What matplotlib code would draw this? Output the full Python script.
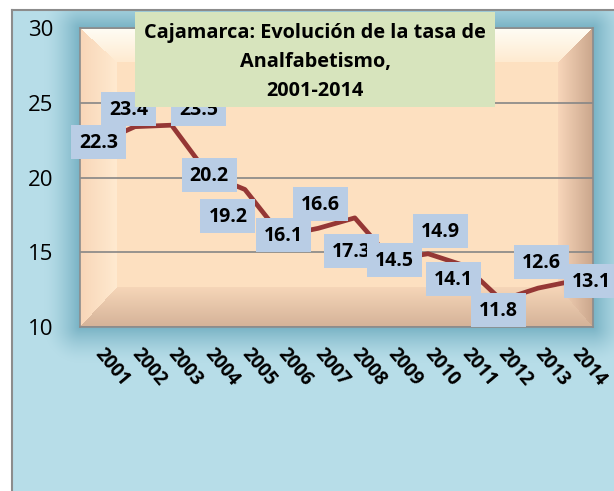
import numpy as np
import matplotlib
matplotlib.use('Agg')
import matplotlib.pyplot as plt
from matplotlib.patches import Rectangle
from matplotlib.lines import Line2D
from matplotlib.path import Path

# ---------------- data ----------------
years = ['2001', '2002', '2003', '2004', '2005', '2006', '2007',
         '2008', '2009', '2010', '2011', '2012', '2013', '2014']
rates = [22.3, 23.4, 23.5, 20.2, 19.2, 16.1, 16.6,
         17.3, 14.5, 14.9, 14.1, 11.8, 12.6, 13.1]
yticks = [10, 15, 20, 25, 30]
title_lines = ['Cajamarca: Evolución de la tasa de', 'Analfabetismo,', '2001-2014']

# label offsets (pixels) relative to each point
label_offsets = [(0, 0), (-6, 17), (27, 15), (1, -1), (-17, -28), (2, 0), (2, 23),
                 (-3, -34), (3, -1), (12, 22), (-11, -14), (-3, -11), (3, 25), (17, -1)]

plt.rcParams['font.family'] = ['Open Sans', 'DejaVu Sans']

W, H = 614, 491
L, T, R, B = 80, 28, 593, 327

# ---------------- background image ----------------
yy, xx = np.mgrid[0:H, 0:W] + 0.5
img = np.ones((H, W, 3))
base = np.array([183, 221, 232]) / 255
dark = np.array([120, 178, 196]) / 255
dxo = np.maximum(np.maximum(L - xx, xx - R), 0)
dyo = np.maximum(np.maximum(T - yy, yy - B), 0)
d = np.hypot(dxo, dyo)
I = np.clip(1 - d / 36, 0, 1) ** 1.5
chart = base * (1 - I[..., None]) + dark * I[..., None]
inside_chart = (xx >= 12) & (yy >= 10)
img[inside_chart] = chart[inside_chart]

u = xx - L
v = yy - T
Wp, Hp = R - L, B - T
stack = np.stack([v / 34, (Hp - v) / 40, u / 37, (Wp - u) / 35])
idx = np.argmin(stack, axis=0)
m = np.min(stack, axis=0)
t = np.clip(m, 0, 1)[..., None]
peach = np.array([253, 224, 192]) / 255
facets = [
    (np.array([255, 253, 245]), np.array([254, 234, 208])),  # top
    (np.array([212, 178, 152]), np.array([246, 214, 184])),  # bottom
    (np.array([248, 214, 184]), np.array([255, 234, 208])),  # left
    (np.array([202, 166, 140]), np.array([248, 214, 186])),  # right
]
plot_img = np.broadcast_to(peach, (H, W, 3)).copy()
for k, (c0, c1) in enumerate(facets):
    col = (c0 / 255) + (c1 / 255 - c0 / 255) * t
    sel = (idx == k) & (m < 1)
    plot_img[sel] = col[sel]
inside_plot = (u >= 0) & (u <= Wp) & (v >= 0) & (v <= Hp)
img[inside_plot] = plot_img[inside_plot]

fig = plt.figure(figsize=(W / 100, H / 100), dpi=100)
fig.patch.set_facecolor('white')
ax0 = fig.add_axes([0, 0, 1, 1])
ax0.imshow(img, extent=(0, W, H, 0), interpolation='nearest', aspect='auto')
ax0.set_xlim(0, W)
ax0.set_ylim(H, 0)
ax0.axis('off')
ax0.add_line(Line2D([12, 12], [10, H], color='#8c8c8c', lw=1.5))
ax0.add_line(Line2D([12, W], [10, 10], color='#8c8c8c', lw=1.5))


def fixed_box(x0, y0, width, height, mutation_size, bw=55, bh=34):
    cx = x0 + width / 2
    cy = y0 + height / 2 + 1
    verts = [(cx - bw / 2, cy - bh / 2), (cx + bw / 2, cy - bh / 2),
             (cx + bw / 2, cy + bh / 2), (cx - bw / 2, cy + bh / 2),
             (cx - bw / 2, cy - bh / 2)]
    return Path(verts, closed=True)


# ---------------- plot ----------------
ax = fig.add_axes([L / W, 1 - B / H, (R - L) / W, (B - T) / H])
ax.set_facecolor('none')
x = np.arange(len(years))
ax.plot(x, rates, color='#953735', lw=3.4, zorder=3)
ax.set_xlim(-0.5, len(years) - 0.5)
ax.set_ylim(10, 30)
ax.set_yticks(yticks)
ax.set_yticklabels([str(v) for v in yticks], fontsize=16)
ax.tick_params(axis='y', length=0, pad=19)
ax.set_xticks(x)
ax.set_xticklabels(years, rotation=-50, rotation_mode='anchor', ha='left', va='center',
                   fontsize=13.5, fontweight='bold')
ax.tick_params(axis='x', length=0, pad=17)
ax.grid(axis='y', color='#868686', lw=1.2)
ax.set_axisbelow(True)
for s in ax.spines.values():
    s.set_color('#8c8c8c')
    s.set_linewidth(1.2)

for i, (val, (ox, oy)) in enumerate(zip(rates, label_offsets)):
    ax.annotate(f'{val:.1f}', xy=(i, val), xytext=(ox, oy), textcoords='offset pixels',
                ha='center', va='center', fontsize=14, fontweight='bold',
                bbox=dict(boxstyle=fixed_box, fc='#b9cde5', ec='none'), zorder=5)

# ---------------- title overlay ----------------
ov = fig.add_axes([0, 0, 1, 1])
ov.set_xlim(0, W)
ov.set_ylim(H, 0)
ov.axis('off')
ov.add_patch(Rectangle((135, 12), 360, 95, fc='#d7e4bd', ec='none'))
for k, line in enumerate(title_lines):
    ov.text(315, 38 + 29.2 * k, line, ha='center', va='baseline',
            fontsize=14.3, fontweight='bold', color='black')

fig.savefig('out.png', dpi=100)
